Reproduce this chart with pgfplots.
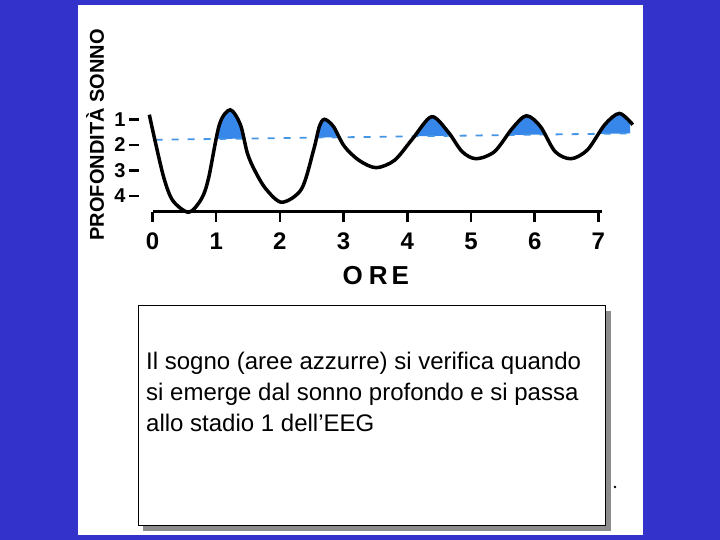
\documentclass[border=0pt]{standalone}
\usepackage{fontspec}
\setmainfont{Liberation Sans}
\usepackage{pgfplots}
\pgfplotsset{compat=1.18}
\definecolor{slideblue}{RGB}{51,51,204}
\definecolor{dreamblue}{RGB}{55,135,235}
\definecolor{dashblue}{RGB}{70,150,230}

% sleep depth across the night
\pgfplotstableread{
x d
-0.05 0.82
0.04 1.84
0.18 3.30
0.32 4.18
0.57 4.63
0.77 4.10
0.88 3.30
1.05 1.21
1.22 0.63
1.38 1.21
1.49 2.33
1.61 3.02
1.78 3.72
2.03 4.24
2.34 3.72
2.53 2.19
2.62 1.28
2.70 1.00
2.84 1.28
3.01 2.05
3.24 2.60
3.51 2.89
3.80 2.60
4.08 1.77
4.38 0.90
4.64 1.49
4.86 2.26
5.08 2.54
5.37 2.26
5.65 1.35
5.87 0.86
6.09 1.28
6.32 2.26
6.57 2.54
6.83 2.19
7.10 1.21
7.33 0.77
7.54 1.21
}\sonno

\begin{document}
\begin{tikzpicture}[x=1pt,y=1pt]
\fill[slideblue] (0,0) rectangle (720,540);
\fill[white] (78,5) rectangle (643,535);

\begin{axis}[
    at={(139pt,328pt)}, anchor=south west,
    scale only axis, width=497.6pt, height=118.3pt,
    xmin=-0.212, xmax=7.6, ymin=0, ymax=4.62,
    y dir=reverse,
    clip=false,
    axis x line*=bottom, axis y line*=left,
    x axis line style={draw=none},
    y axis line style={draw=none},
    xtick={0,...,7}, ytick={1,2,3,4},
    tick align=outside,
    major tick length=10pt,
    tick style={line width=2.5pt, black},
    /pgf/number format/assume math mode=true,
    xticklabel style={font=\fontsize{24}{24}\selectfont\bfseries, yshift=-7pt},
    yticklabel style={font=\fontsize{20}{20}\selectfont\bfseries},
    xlabel={O\hspace{6pt}R\hspace{4pt}E},
    xlabel style={font=\fontsize{26}{26}\selectfont\bfseries, at={(axis description cs:0.476,-0.533)}, anchor=center},
    ylabel={PROFONDITÀ SONNO},
    ylabel style={font=\fontsize{20}{20}\selectfont\bfseries, at={(axis description cs:-0.088,0.651)}, anchor=center},
]
% blue band above the stage line, then masked above the curve
\addplot[fill=dreamblue, draw=none] coordinates {(0.05,1.80) (7.50,1.55)} \closedcycle;
\addplot[fill=white, draw=white, line width=2pt, smooth] table[x=x,y=d] {\sonno} \closedcycle;
% dashed stage line and baseline
\addplot[dashblue, line width=1.8pt, dash pattern=on 7pt off 9pt] coordinates {(0.05,1.80) (7.50,1.55)};
\addplot[black, line width=3pt] coordinates {(0,4.62) (7.05,4.62)};
% hypnogram
\addplot[black, line width=3.5pt, smooth] table[x=x,y=d] {\sonno};
\end{axis}

% text box with shadow
\fill[gray!90] (143,9) rectangle (611,229);
\filldraw[fill=white, draw=black, line width=1pt] (138,14) rectangle (605.5,234);
\begin{scope}[every node/.style={anchor=base west, inner sep=0pt, font=\fontsize{24}{24}\selectfont}]
\node at (146,170) {Il sogno (aree azzurre) si verifica quando};
\node at (146,139) {si emerge dal sonno profondo e si passa};
\node at (146,108) {allo stadio 1 dell’EEG};
\end{scope}
\fill[black] (615,53) circle (1.3);
\end{tikzpicture}
\end{document}
